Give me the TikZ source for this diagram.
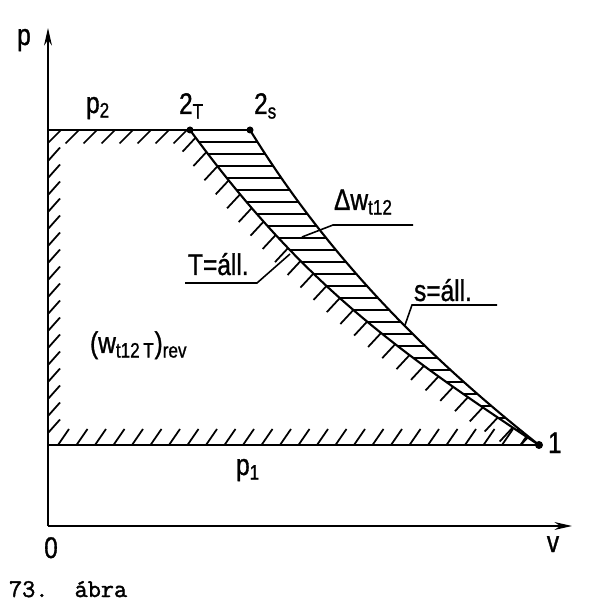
\documentclass[tikz,border=0pt]{standalone}
\usepackage{fontspec}
\setmainfont{Liberation Sans}[FakeStretch = 0.82, FakeBold = 1]
\newfontfamily\abrafont{Latin Modern Mono}[FakeBold = 1.6]
\usetikzlibrary{arrows.meta,decorations.markings}

\begin{document}
\begin{tikzpicture}[line width = 1.2pt, font = \fontsize{17}{19}\selectfont,
  hatch/.style = {line width = 1pt},
  leader/.style = {line width = 0.9pt},
  axis/.style = {line width = 1pt, -{Stealth[length = 10pt, width = 4.5pt]}}]
\useasboundingbox (-0.96,-1.6) rectangle (11.04,10.52);
\coordinate (O) at (0,0);
\coordinate (p2) at (0,7.92);
\coordinate (p1) at (0,1.62);
\coordinate (2T) at (2.84,7.92);
\coordinate (2s) at (4.04,7.92);
\coordinate (1) at (9.82,1.62);
% axes
\draw[axis] (O) -- (0,9.96);
\draw[axis] (O) -- (10.48,0);
% horizontal hatching between the two curves
\begin{scope}
\clip (2T) -- (2s) .. controls (5.64,5.32) and (7.62,3.36) .. (1)
  .. controls (6.82,3.6) and (5.04,4.92) .. (2T);
\foreach \y in {7.68,7.44,...,1.6}
  \draw[hatch] (2,\y) -- (10,\y);
\end{scope}
% oblique hatching of the reversible work area
\begin{scope}
\clip (p2) -- (2T) .. controls (5.04,4.92) and (6.82,3.6) .. (1) -- (p1) -- cycle;
\foreach \x in {0.26,0.62,...,2.9}
  \draw[hatch] (\x,7.92) -- ++(-0.27,-0.27);
\foreach \y in {1.86,2.2,...,7.4}
  \draw[hatch] (0,\y) -- ++(0.24,0.27);
\foreach \x in {0.2,0.57,...,9.7}
  \draw[hatch] (\x,1.62) -- ++(0.22,0.32);
\path[postaction = {decorate}, decoration = {markings,
  mark = between positions 0.02 and 0.99 step 0.36cm with
  {\pgftransformresetnontranslations \draw[hatch] (0,0) -- (-0.26,-0.28);}}]
  (2T) .. controls (5.04,4.92) and (6.82,3.6) .. (1);
\end{scope}
% isobars and curves
\draw (p2) -- (2s);
\draw (p1) -- (1);
\draw (2T) .. controls (5.04,4.92) and (6.82,3.6) .. (1);
\draw (2s) .. controls (5.64,5.32) and (7.62,3.36) .. (1);
\fill (2T) circle (0.07);
\fill (2s) circle (0.07);
\fill (1) circle (0.08);
% leaders
\draw[leader] (5.08,5.78) -- (5.7,6.02) -- (7.3,6.02);
\draw[leader] (4.84,5.44) -- (4.18,4.86) -- (2.74,4.86);
\draw[leader] (7.14,4.02) -- (7.28,4.42) -- (8.98,4.42);
% labels
\node[anchor = base] (plab) at (-0.48,9.62) {p};
\node[anchor = base] (vlab) at (10.1,-0.52) {v};
\node[anchor = base] (olab) at (0.06,-0.64) {0};
\node[anchor = base west, inner sep = 0pt] (p2lab) at (0.74,8.26) {p\textsubscript{2}};
\node[anchor = base west, inner sep = 0pt] (p1lab) at (3.74,1.02) {p\textsubscript{1}};
\node[anchor = base west, inner sep = 0pt] (2Tlab) at (2.6,8.24) {2\textsubscript{T}};
\node[anchor = base west, inner sep = 0pt] (2slab) at (4.1,8.24) {2\textsubscript{s}};
\node[anchor = base west, inner sep = 0pt] (1lab) at (9.98,1.46) {1};
\node[anchor = base west, inner sep = 0pt] (dwlab) at (5.7,6.32) {Δw\textsubscript{t12}};
\node[anchor = base west, inner sep = 0pt] (Tlab) at (2.78,5.02) {T=áll.};
\node[anchor = base west, inner sep = 0pt] (slab) at (7.3,4.5) {s=áll.};
\node[anchor = base west, inner sep = 0pt] (wlab) at (0.82,3.46) {(w\textsubscript{t12\,T})\textsubscript{rev}};
\node[anchor = base west, inner sep = 0pt, font = \abrafont\fontsize{14.5}{16}\selectfont] (cap) at (-0.8,-1.42) {73.\ \ ábra};
\end{tikzpicture}
\end{document}
